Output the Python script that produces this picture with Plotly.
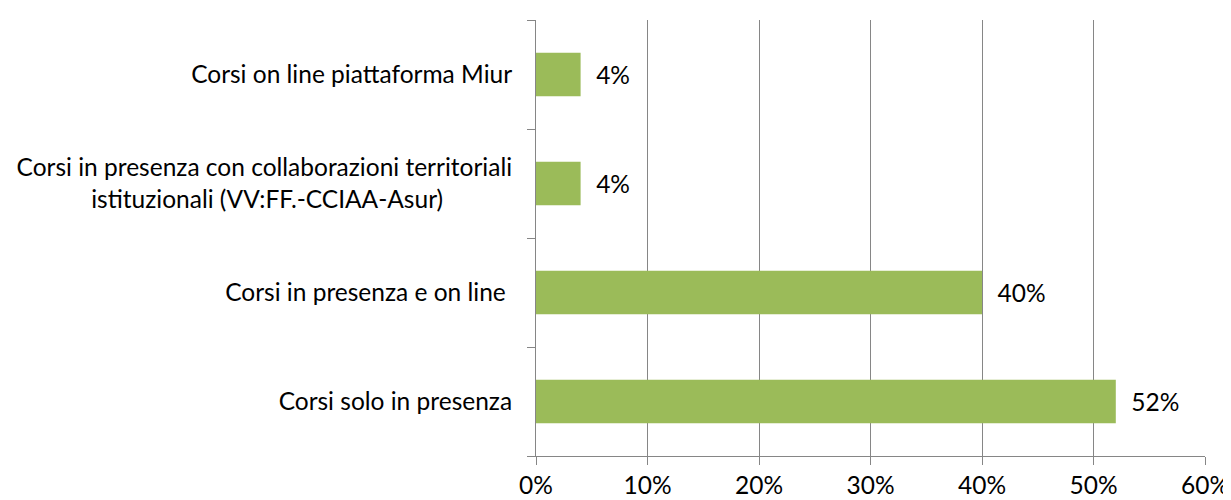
import plotly.graph_objects as go

# categories listed bottom to top (plotly puts the first category at the bottom)
categories = [
  "Corsi solo in presenza",
  "Corsi in presenza e on line ",
  "Corsi in presenza con collaborazioni territoriali<br>istituzionali (VV:FF.-CCIAA-Asur)" + "&nbsp;" * 11,
  "Corsi on line piattaforma Miur",
]
shares = [0.52, 0.40, 0.04, 0.04]
x_ticks = [0, 0.1, 0.2, 0.3, 0.4, 0.5, 0.6]
x_tick_labels = ["0%", "10%", "20%", "30%", "40%", "50%", "60%"]

GREEN = "#9BBB59"
GREY = "#868686"
FONT = dict(family="Lato, Open Sans, sans-serif", size=24.5, color="black")

bars = go.Bar(
  x=shares, y=categories, orientation="h",
  marker=dict(color=GREEN, line=dict(width=0)),
  text=[f"{v:.0%}" for v in shares], texttemplate="&nbsp;&nbsp;%{text}",
  textposition="outside", textfont=FONT, cliponaxis=False,
)

fig = go.Figure([bars])
# the page body adds an 8px offset, so the figure is sized 8px smaller
fig.update_layout(
  width=1223, height=492,
  margin=dict(l=528, r=26, t=12, b=44),
  paper_bgcolor="white", plot_bgcolor="white",
  font=FONT, showlegend=False, bargap=0.6,
)
fig.update_xaxes(
  range=[0, 0.6], tickvals=x_ticks, ticktext=x_tick_labels,
  showgrid=True, gridcolor=GREY, gridwidth=1,
  showline=True, linecolor=GREY, linewidth=1,
  ticks="outside", ticklen=8, tickcolor=GREY, zeroline=False,
  ticklabelstandoff=0, automargin=False,
)
fig.update_yaxes(
  type="category", categoryorder="array", categoryarray=categories,
  showline=True, linecolor=GREY, linewidth=1,
  ticks="outside", ticklen=8, tickcolor=GREY, tickson="boundaries",
  ticklabelstandoff=18, showgrid=False, automargin=False,
)
fig.write_html("out.html")
